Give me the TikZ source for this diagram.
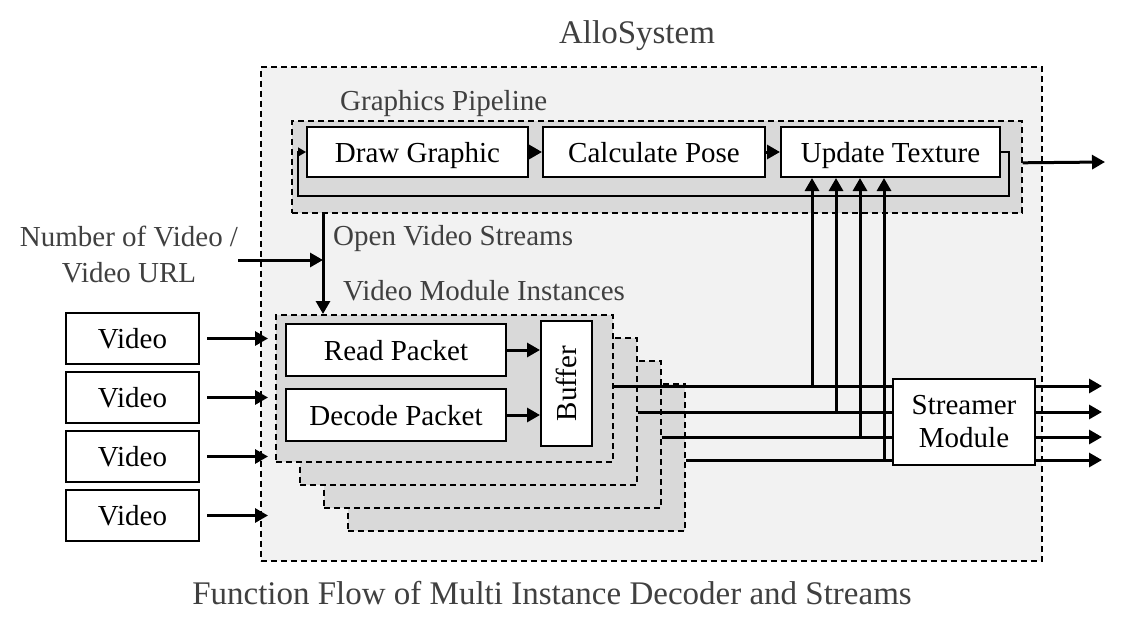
\documentclass[tikz,border=0pt]{standalone}
\usepackage{fontspec}
\setmainfont{Liberation Serif}
\usetikzlibrary{arrows.meta, positioning}

\definecolor{outerfill}{HTML}{F2F2F2}
\definecolor{groupfill}{HTML}{D9D9D9}
\definecolor{labelgray}{HTML}{404040}

\tikzstyle{arrow} = [line width=3pt, -{Triangle[length=13pt,width=14pt]}]
\tikzstyle{thinarrow} = [line width=1.5pt, -{Triangle[length=8pt,width=9pt]}]
\tikzstyle{stream} = [line width=3pt]
\tikzstyle{block} = [draw, line width=2pt, fill=white, minimum height=50pt, inner sep=0pt, text height=23pt, text depth=3pt, font=\fontsize{29}{33}\selectfont]
\tikzstyle{group} = [draw, line width=1.6pt, dash pattern=on 6pt off 4pt, inner sep=0pt, anchor=north west]
\tikzstyle{note} = [text=labelgray, inner sep=0pt, font=\fontsize{29}{36}\selectfont]
\tikzstyle{heading} = [text=labelgray, inner sep=0pt, font=\fontsize{33}{38}\selectfont]

\begin{document}
\begin{tikzpicture}[x=1pt, y=-1pt]
	\useasboundingbox (0,0) rectangle (1123,632);

	% containers
	\node[group, fill=outerfill, minimum width=781pt, minimum height=494pt] (allo) at (260,66) {};
	\node[group, fill=groupfill, minimum width=730pt, minimum height=92pt]  (pipe) at (291,120) {};
	\foreach \i in {4,3,2,1}
		\node[group, fill=groupfill, minimum width=337pt, minimum height=147pt] (vm\i) at ({275+24*(\i-1)}, {314+23*(\i-1)}) {};

	% texts
	\node[heading]                  (title)   at (637,36)  {AlloSystem};
	\node[heading]                  (caption) at (552,593) {Function Flow of Multi Instance Decoder and Streams};
	\node[note, anchor=west]        (gplabel) at (340,104) {Graphics Pipeline};
	\node[note, anchor=west]        (ovs)     at (333,239) {Open Video Streams};
	\node[note, anchor=west]        (vmlabel) at (343,291) {Video Module Instances};
	\node[note, align=center]       (num)     at (129,255) {Number of Video /\\Video URL};

	% graphics pipeline
	\node[block, minimum width=221pt]                      (dg) at (417.5,152) {Draw Graphic};
	\node[block, minimum width=222pt, right=13pt of dg]    (cp) {Calculate Pose};
	\node[block, minimum width=219pt, right=14pt of cp]    (ut) {Update Texture};

	% video module
	\node[block, minimum width=220pt, minimum height=52pt] (rp) at (396,350) {Read Packet};
	\node[block, minimum width=220pt, minimum height=52pt, below=11pt of rp] (dp) {Decode Packet};
	\node[block, minimum width=51pt, minimum height=125pt, text height=, text depth=] (buf) at (566.5,383.5) {\rotatebox{90}{Buffer}};

	% videos
	\node[block, minimum width=133pt, minimum height=51pt] (v1) at (132.5,338.5) {Video};
	\node[block, minimum width=133pt, minimum height=51pt, below=6pt of v1] (v2) {Video};
	\node[block, minimum width=133pt, minimum height=51pt, below=6pt of v2] (v3) {Video};
	\node[block, minimum width=133pt, minimum height=51pt, below=6pt of v3] (v4) {Video};

	\coordinate (split) at (323,260);
	\coordinate (vin)   at (268,0);
	\coordinate (out)   at (1102,0);
	\coordinate (gpout) at (1105,162);
	\coordinate (fbr)   at (1009,196);
	\coordinate (fbl)   at (298,196);

	\draw[arrow] (dg) -- (cp);
	\draw[arrow] (cp) -- (ut);
	\draw[thinarrow] (ut.east) -| (fbr) -- (fbl) |- (dg.west);
	\draw[arrow] ([yshift=4pt]pipe.east) -- (gpout);

	\draw[arrow] (pipe.south -| split) -- (vm1.north -| split);
	\draw[arrow] (num.east |- split) -- (split);
	\foreach \i in {1,...,4}
		\draw[arrow] ([xshift=7pt]v\i.east) -- (v\i.east -| vin);

	\draw[arrow] (rp.east) -- (rp.east -| buf.west);
	\draw[arrow] (dp.east) -- (dp.east -| buf.west);

	% streams
	\foreach \i/\x/\y in {1/812/386, 2/836/412, 3/860/437, 4/884/460} {
		\draw[stream] (vm\i.east |- 0,\y) -- (964,\y);
		\draw[arrow] (\x,\y+1.5) -- (ut.south -| \x,0);
		\draw[arrow] (964,\y) -- (out |- 0,\y);
	}
	\node[block, minimum width=142pt, minimum height=86pt, align=center, text height=, text depth=] (sm) at (964,422) {Streamer\\Module};
\end{tikzpicture}
\end{document}
